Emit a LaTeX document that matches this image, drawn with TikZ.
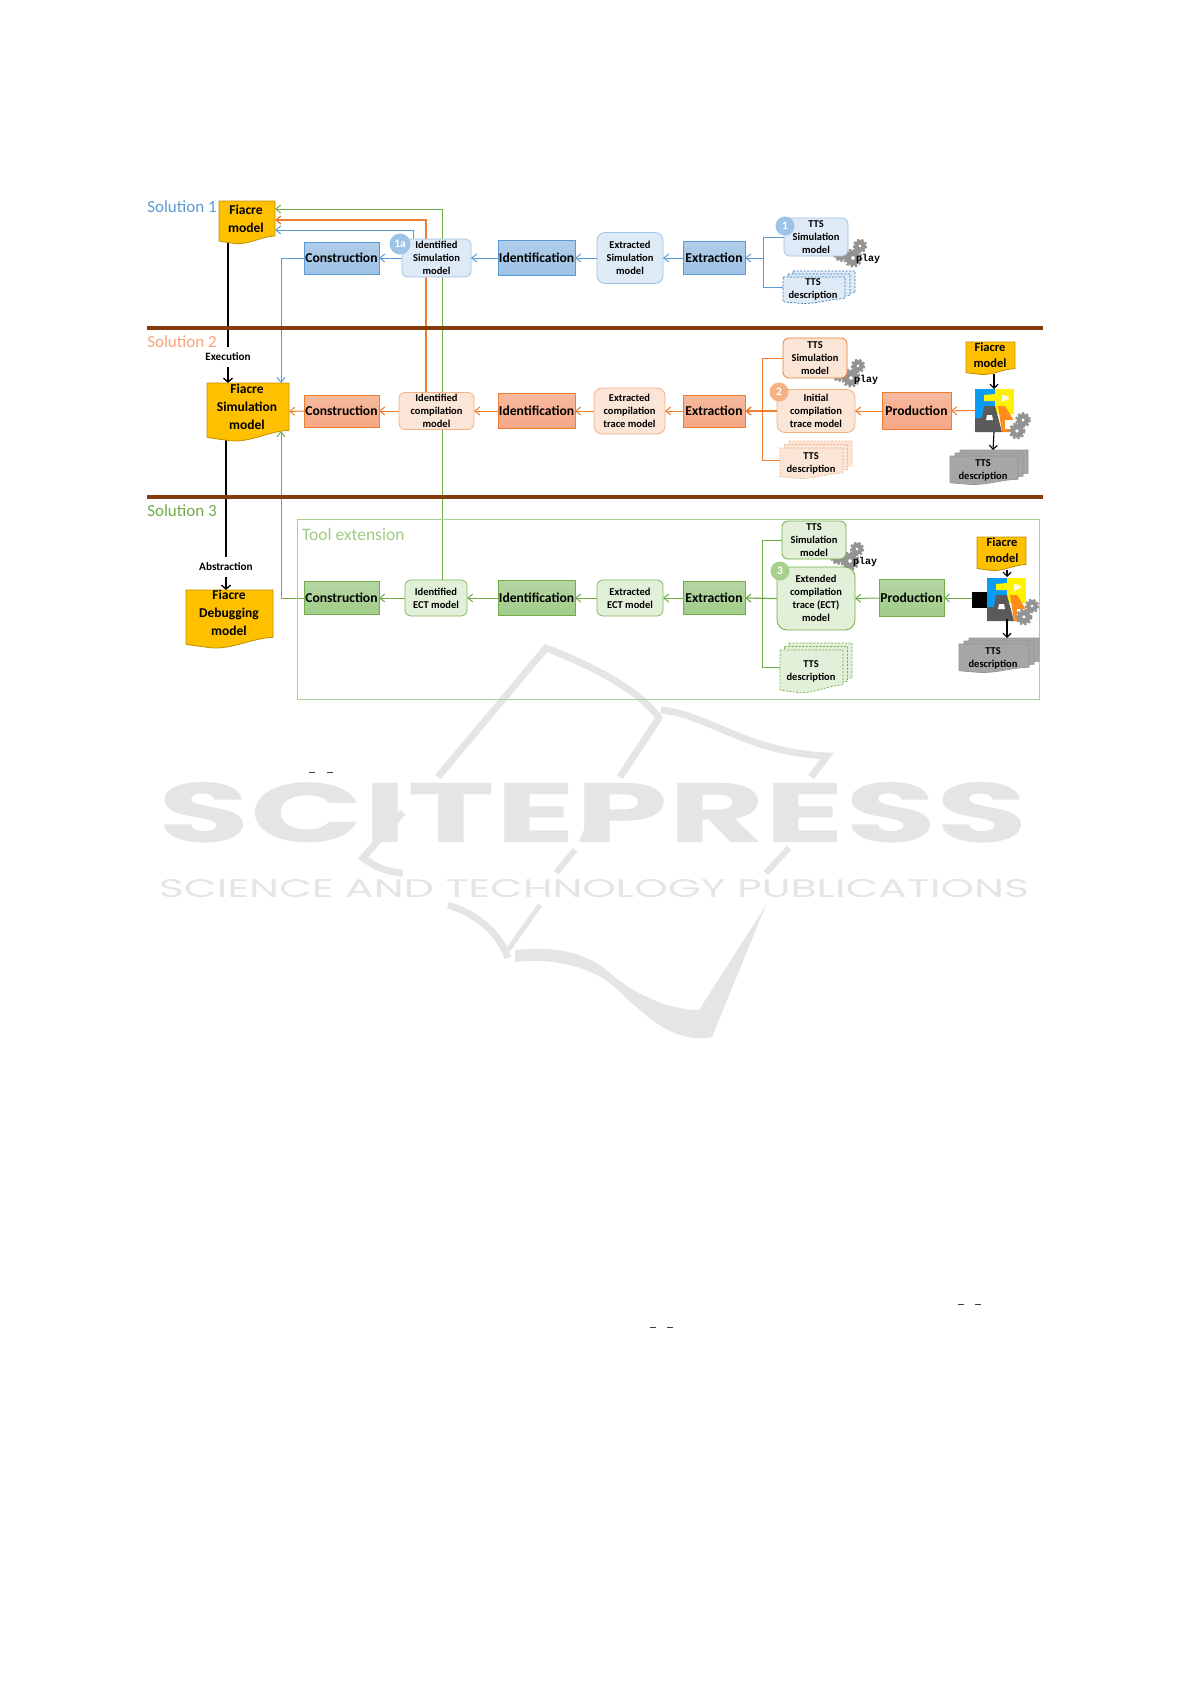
\documentclass[tikz,border=0pt]{standalone}
\usepackage{fontspec, graphicx}
\setmainfont{Carlito}
\newfontfamily\playfont{Liberation Mono}
\newfontfamily\markfont{Poppins}
\usetikzlibrary{arrows.meta}

\definecolor{bluel}{HTML}{5B9BD5}
\definecolor{blueb}{HTML}{9DC3E6}
\definecolor{bluef}{HTML}{DEEAF6}
\definecolor{bluedash}{HTML}{2E75B6}
\definecolor{bluetop}{HTML}{B1CDE9}
\definecolor{orangel}{HTML}{ED7D31}
\definecolor{orangeb}{HTML}{F4B183}
\definecolor{orangef}{HTML}{FBE5D6}
\definecolor{orangesol}{HTML}{F9A27A}
\definecolor{orangetop}{HTML}{F6BA9E}
\definecolor{orangebot}{HTML}{F6A684}
\definecolor{greenl}{HTML}{70AD47}
\definecolor{greenb}{HTML}{A9D18E}
\definecolor{greenf}{HTML}{E2F0D9}
\definecolor{greentop}{HTML}{B6D6A4}
\definecolor{greenbot}{HTML}{A0CC88}
\definecolor{docf}{HTML}{FFC000}
\definecolor{docb}{HTML}{BF9000}
\definecolor{rulecol}{HTML}{843C0C}
\definecolor{cogcol}{HTML}{939393}
\definecolor{markcol}{HTML}{E4E6E6}
\definecolor{toolblue}{HTML}{0A9BF5}
\definecolor{toolgray}{HTML}{5A5A5A}
\definecolor{toolorange}{HTML}{FF8C1A}

\pgfdeclarelayer{back}
\pgfsetlayers{back,main}

\tikzset{
  boxtext/.style={font=\bfseries\fontsize{10.5}{13}\selectfont, align=center, inner sep=0pt, outer sep=0pt},
  proc/.style={draw, line width=.8pt, inner sep=0pt, outer sep=0pt, font=\bfseries\fontsize{13.6}{14}\selectfont},
  procA/.style={proc, draw=bluel, top color=bluetop, bottom color=blueb},
  procB/.style={proc, draw=orangel, top color=orangetop, bottom color=orangebot},
  procC/.style={proc, draw=greenl, top color=greentop, bottom color=greenbot},
  modelA/.style={boxtext, draw=blueb, fill=bluef, rounded corners=6pt, line width=.8pt},
  modelB/.style={boxtext, draw=orangeb, fill=orangef, rounded corners=6pt, line width=.8pt},
  modelC/.style={boxtext, draw=greenb, fill=greenf, rounded corners=6pt, line width=.8pt},
  badge/.style={circle, text=white, inner sep=0pt, minimum size=19pt, font=\bfseries\fontsize{11.5}{12}\selectfont},
  doctext/.style={font=\bfseries\fontsize{13.5}{18}\selectfont, align=center, inner sep=0pt},
  sollabel/.style={font=\fontsize{17}{18}\selectfont, inner sep=0pt},
  steplabel/.style={font=\bfseries\fontsize{11.2}{12}\selectfont, inner sep=0pt, minimum height=20pt},
  playlabel/.style={font=\playfont\bfseries\fontsize{10}{10}\selectfont, inner sep=0pt},
  lnA/.style={draw=bluel, line width=1pt, -{Straight Barb[length=5pt,width=8pt]}},
  lnB/.style={draw=orangel, line width=1pt, -{Straight Barb[length=5pt,width=8pt]}},
  lnC/.style={draw=greenl, line width=1pt, -{Straight Barb[length=5pt,width=8pt]}},
  lnK/.style={draw=black, line width=1.3pt},
  lnT/.style={draw=black, line width=1.1pt, -{Straight Barb[length=4pt,width=8pt]}},
  rule/.style={draw=rulecol, line width=3.6pt},
}

% wavy sheet: style, name, x, y, width, height
\newcommand{\docshape}[6]{
  \begin{scope}[shift={(#3,#4)}, xscale=#5, yscale=#6]
    \draw[#1] (0,0) -- (1,0) -- (1,.83) .. controls (.72,.85) and (.5,1.08) .. (.22,1)
      .. controls (.12,.98) and (.05,.97) .. (0,.95) -- cycle;
    \node[minimum width=#5, minimum height=#6, inner sep=0pt, outer sep=0pt] (#2) at (.5,.5) {};
  \end{scope}
}
% three sheets, back one first
\newcommand{\docstack}[8]{
  \docshape{#1}{#2back}{#3+#7}{#4+#8}{#5}{#6}
  \docshape{#1}{#2mid}{#3+#7/2}{#4+#8/2}{#5}{#6}
  \docshape{#1}{#2}{#3}{#4}{#5}{#6}
}
\newcommand{\cogwheel}[3]{
  \draw[cogcol, line width=.7*#3] (#1,#2) circle (.62*#3);
  \draw[cogcol, line width=.3*#3, dash pattern=on 2.4pt off 2pt] (#1,#2) circle (1.05*#3);
}
\newcommand{\gears}[2]{
  \cogwheel{#1-15}{#2+1}{6.5}
  \cogwheel{#1+4}{#2-7}{6}
  \cogwheel{#1-3}{#2+5}{8}
}
% tool logo, from its upper left corner
\newcommand{\logoicon}[2]{
  \begin{scope}[shift={(#1,#2)}]
    \fill[toolblue] (0,0) rectangle (20,29);
    \fill[yellow] (20,0) rectangle (39,25);
    \fill[yellow] (9,6) -- (20,5) -- (20,12) -- (9,12) -- cycle;
    \fill[white!85!yellow] (27,6) -- (33,7) -- (34,10) -- (27,13) -- cycle;
    \fill[toolgray] (0,29) -- (7,29) -- (9,17) -- (20,17) -- (27,43) -- (0,43) -- cycle;
    \fill[white] (12,26) -- (17,26) -- (18,31) -- (11,31) -- cycle;
    \fill[toolorange] (23,17) -- (30,17) -- (38,30) -- (38,43) -- (27,43) -- cycle;
    \fill[white] (30,31) -- (38,31) -- (38,40) -- (30,40) -- cycle;
  \end{scope}
}

\begin{document}
\begin{tikzpicture}[x=1pt, y=-1pt]
\useasboundingbox (0,0) rectangle (1191,1684);

% ---- Solution 1
\docshape{fill=docf, draw=docb, line width=.8pt}{fiaA}{219}{201}{56}{42}
\node[doctext] (fiaAtxt) at (246,219) {Fiacre\\model};
\node[procA, minimum width=75, minimum height=32] (conA) at (341.5,258) {Construction};
\node[modelA, minimum width=69, minimum height=38] (idsA) at (436.5,258) {Identified\\Simulation\\model};
\node[procA, minimum width=77, minimum height=35] (ideA) at (536.5,258) {Identification};
\node[modelA, minimum width=66, minimum height=51, rounded corners=8pt] (extsA) at (630,258) {Extracted\\Simulation\\model};
\node[procA, minimum width=62, minimum height=33] (extA) at (714,258) {Extraction};
\gears{856}{253}
\node[playlabel] (playA) at (868,259) {play};
\node[modelA, minimum width=64, minimum height=38] (ttsA) at (816,237) {TTS\\Simulation\\model};
\docstack{fill=bluef, draw=bluedash, dash pattern=on 2pt off 1.5pt, line width=.7pt}{descA}{783}{277}{62}{26}{10}{-6}
\node[boxtext] (descAtxt) at (813,289) {TTS\\description};
\node[badge, fill=blueb, minimum size=21pt] (bdgAa) at (400,244) {1a};
\node[badge, fill=blueb] (bdgA) at (785,226) {1};

\node[sollabel, text=bluel] (solA) at (182,207) {Solution 1};
\node[sollabel, text=orangesol] (solB) at (182,342) {Solution 2};
\node[sollabel, text=greenl] (solC) at (182,511) {Solution 3};

% ---- Solution 2
\docshape{fill=docf, draw=docb, line width=.8pt}{fiaS}{207}{383}{82}{57}
\node[doctext] (fiaStxt) at (247,407) {Fiacre\\Simulation\\model};
\node[procB, minimum width=75, minimum height=32] (conB) at (341.5,411) {Construction};
\node[modelB, minimum width=75, minimum height=37] (idsB) at (436.5,411) {Identified\\compilation\\model};
\node[procB, minimum width=77, minimum height=35] (ideB) at (536.5,411) {Identification};
\node[modelB, minimum width=71, minimum height=46, rounded corners=8pt] (extsB) at (629.5,411) {Extracted\\compilation\\trace model};
\node[procB, minimum width=62, minimum height=32] (extB) at (714,411) {Extraction};
\gears{854}{373}
\node[playlabel] (playB) at (866,380) {play};
\node[modelB, minimum width=64, minimum height=40, draw=orangel] (ttsB) at (815,358) {TTS\\Simulation\\model};
\node[modelB, minimum width=78, minimum height=43, rounded corners=8pt] (iniB) at (816,411) {Initial\\compilation\\trace model};
\node[badge, fill=orangeb] (bdgB) at (779,392) {2};
\docstack{fill=orangef, draw=orangeb, dash pattern=on 2pt off 1.5pt, line width=.7pt}{descB}{780}{448}{63}{30}{9}{-7}
\node[boxtext] (descBtxt) at (811,463) {TTS\\description};
\node[procB, minimum width=69, minimum height=37] (prodB) at (916.5,411) {Production};
\docshape{fill=docf, draw=docb, line width=.8pt}{fiaB}{966}{342}{49}{32}
\node[doctext, font=\bfseries\fontsize{12.5}{16}\selectfont] (fiaBtxt) at (990,355) {Fiacre\\model};
\logoicon{975}{389}
\cogwheel{1023}{420}{6.5}
\cogwheel{1017}{431}{7}
\node[minimum width=38, minimum height=43, inner sep=0pt, outer sep=0pt] (toolB) at (994,410.5) {};
\docstack{fill=black!35, draw=cogcol, line width=.7pt}{grayB}{950}{456}{68}{28}{10}{-6}
\node[boxtext] (grayBtxt) at (983,470) {TTS\\description};
\draw[rule] (147,328) -- (1043,328);

% ---- Solution 3
\draw[greenb, line width=.8pt] (297,519) rectangle (1039,699);
\node[sollabel, text=greenb!85!greenl, font=\fontsize{17.5}{18}\selectfont, anchor=west] (toolC) at (302,534) {Tool extension};
\docshape{fill=docf, draw=docb, line width=.8pt}{fiaD}{186}{590}{87}{57}
\node[doctext] (fiaDtxt) at (229,613) {Fiacre\\Debugging\\model};
\node[procC, minimum width=75, minimum height=33] (conC) at (341.5,598) {Construction};
\node[modelC, minimum width=62, minimum height=36, draw=greenl!70!greenb] (idsC) at (436,598) {Identified\\ECT model};
\node[procC, minimum width=77, minimum height=35] (ideC) at (536.5,598) {Identification};
\node[modelC, minimum width=66, minimum height=36, draw=greenl!70!greenb] (extsC) at (630,598) {Extracted\\ECT model};
\node[procC, minimum width=62, minimum height=33] (extC) at (714,598) {Extraction};
\gears{853}{556}
\node[playlabel] (playC) at (865,562) {play};
\node[modelC, minimum width=64, minimum height=38, draw=greenl] (ttsC) at (814,540) {TTS\\Simulation\\model};
\node[modelC, minimum width=78, minimum height=63, rounded corners=10pt, draw=greenl] (iniC) at (816,598.5) {Extended\\compilation\\trace (ECT)\\model};
\node[badge, fill=greenb] (bdgC) at (780,571) {3};
\docstack{fill=greenf, draw=greenl, dash pattern=on 2pt off 1.5pt, line width=.7pt}{descC}{780}{650}{63}{42}{9}{-7}
\node[boxtext] (descCtxt) at (811,671) {TTS\\description};
\node[procC, minimum width=65, minimum height=37] (prodC) at (911.5,598) {Production};
\docshape{fill=docf, draw=docb, line width=.8pt}{fiaC}{977}{537}{49}{33}
\node[doctext, font=\bfseries\fontsize{12.5}{16}\selectfont] (fiaCtxt) at (1002,550.5) {Fiacre\\model};
\fill[black] (972,592) rectangle (987,608);
\node[minimum width=15, minimum height=16, inner sep=0pt, outer sep=0pt] (plugC) at (979.5,598) {};
\logoicon{987}{578}
\cogwheel{1032}{606}{6}
\cogwheel{1024}{617}{7}
\node[minimum width=38, minimum height=42, inner sep=0pt, outer sep=0pt] (toolCi) at (1006,598) {};
\docstack{fill=black!35, draw=cogcol, line width=.7pt}{grayC}{959}{644}{70}{28}{10}{-6}
\node[boxtext] (grayCtxt) at (993,658) {TTS\\description};
\draw[rule] (147,497) -- (1043,497);

\node[steplabel] (execS) at (228,357) {Execution};
\node[steplabel] (abstD) at (226,567) {Abstraction};

\begin{pgfonlayer}{back}
% watermark
\begin{scope}[markcol]
  \node[inner sep=0pt, text=markcol] (markA) at (593.5,813) {\resizebox{869pt}{60pt}{\markfont\bfseries SCITEPRESS}};
  \node[inner sep=0pt, text=markcol] (markB) at (594,889) {\resizebox{870pt}{18pt}{\markfont SCIENCE AND TECHNOLOGY PUBLICATIONS}};
  \draw[line width=7pt] (438,777) -- (546,648) .. controls (590,665) and (640,690) .. (659,718) -- (620,777);
  \draw[line width=7pt] (661,710) .. controls (710,715) and (745,752) .. (827,756) -- (811,777);
  \draw[line width=7pt] (403,812) -- (363,858) .. controls (375,866) and (385,872) .. (403,873);
  \draw[line width=6pt] (588,828) -- (582,842) (575,850) -- (556,873);
  \draw[line width=6pt] (789,848) -- (766,873);
  \draw[line width=7pt] (448,905) .. controls (480,915) and (500,935) .. (508,958);
  \draw[line width=5pt] (540,905) -- (508,950);
  \fill (515,950) .. controls (560,945) and (590,955) .. (610,973) .. controls (635,995) and (670,1010) .. (699,1010)
    -- (766,905) -- (712,1037) .. controls (670,1045) and (640,1010) .. (610,983)
    .. controls (585,965) and (550,958) .. (515,962) -- cycle;
\end{scope}
\foreach \mx/\my in {309/772,327/772,958/1304,975/1304,650/1327,667/1327}
  \fill[black!75] (\mx,\my) rectangle (\mx+6,\my+1.2);

% long connectors pass behind the model boxes with a white gap
\draw[lnC] ([xshift=6]idsC.north) |- ([yshift=13]fiaA.east);
\fill[white] ([shift={(-5,-5)}]idsB.south west) rectangle ([shift={(5,5)}]idsB.north east);
\draw[lnB, line width=1.3pt] ([xshift=-10.5]idsB.north) |- ([yshift=2]fiaA.east);
\fill[white] ([shift={(-4,-4)}]idsA.south west) rectangle ([shift={(4,4)}]idsA.north east);
\draw[lnA] ([xshift=-23.5]idsA.north) |- ([yshift=-8]fiaA.east);
\coordinate (fiaSlow) at (281,431);
\draw[lnA] (conA.west) -| ([xshift=33]fiaS.north);
\draw[lnC] (conC.west) -| (fiaSlow);

\draw[lnK] (execS.north |- fiaA.south) -- (execS.north);
\draw[lnK, -{Straight Barb[length=4pt,width=9pt]}] (execS.south) -- (execS.south |- fiaS.north);
\draw[lnK] (abstD.north |- fiaS.south) -- (abstD.north);
\draw[lnK, -{Straight Barb[length=4pt,width=9pt]}] (abstD.south) -- (abstD.south |- fiaD.north);
\end{pgfonlayer}

% chain arrows
\foreach \from/\to in {idsA/conA, ideA/idsA, extsA/ideA, extA/extsA}
  \draw[lnA] (\from) -- (\to);
\foreach \from/\to in {conB/fiaS, idsB/conB, ideB/idsB, extsB/ideB, extB/extsB, prodB/iniB, toolB/prodB}
  \draw[lnB] (\from) -- (\to);
\foreach \from/\to in {idsC/conC, ideC/idsC, extsC/ideC, extC/extsC, prodC/iniC, plugC/prodC}
  \draw[lnC] (\from) -- (\to);

% brackets
\coordinate (brkA) at (763,258);
\draw[bluel, line width=1pt] (ttsA.west) -| (brkA) (brkA) |- ([yshift=3]descA.west);
\draw[lnA] (brkA) -- (extA.east);
\coordinate (brkB) at (762,411);
\draw[orangel, line width=1pt] (ttsB.west) -| (brkB) (brkB) |- ([yshift=3]descB.west);
\draw[lnB, line width=1.4pt] (iniB.west) -- (extB.east);
\coordinate (brkC) at (762,598);
\draw[greenl, line width=1pt] (ttsC.west) -| (brkC) (brkC) |- ([yshift=4]descC.west);
\draw[lnC, line width=1.2pt] (iniC.west) -- (extC.east);

\coordinate (grayBtop) at (993,450);
\coordinate (grayCtop) at (1007,638);
\draw[lnT] ([xshift=3.5]fiaB.south) -- (toolB.north);
\draw[lnT] (toolB.south) -- (grayBtop);
\draw[lnT] ([xshift=5.5]fiaC.south) -- ([xshift=1]toolCi.north);
\draw[lnT] ([xshift=1]toolCi.south) -- (grayCtop);

\end{tikzpicture}
\end{document}
